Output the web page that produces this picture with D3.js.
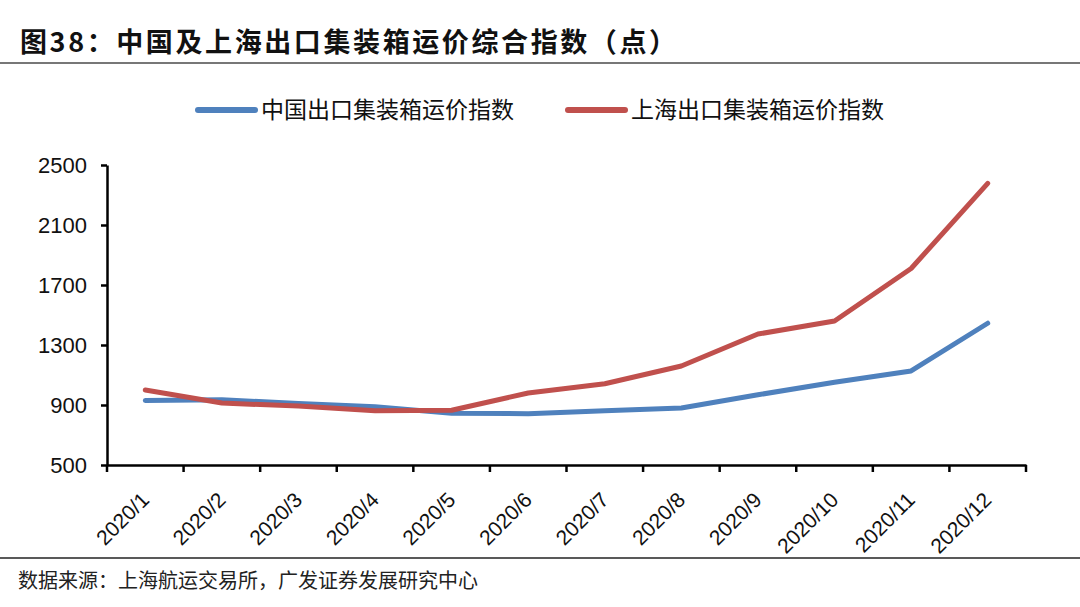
<!DOCTYPE html>
<html>
<head>
<meta charset="utf-8">
<script src="https://cdn.jsdelivr.net/npm/d3@7"></script>
<style>
  body { margin: 0; background: #fff; }
  svg { display: block; }
</style>
</head>
<body>
<div id="chart"></div>
<script>
// months and the two index series (points)
var months = ["2020/1", "2020/2", "2020/3", "2020/4", "2020/5", "2020/6",
              "2020/7", "2020/8", "2020/9", "2020/10", "2020/11", "2020/12"];
var chinaIdx = [930, 935, 910, 888, 845, 842, 862, 880, 968, 1052, 1127, 1445];
var shanghaiIdx = [1000, 913, 893, 862, 865, 980, 1042, 1160, 1373, 1460, 1810, 2378];
var yTicks = [500, 900, 1300, 1700, 2100, 2500];
var seriesNames = ["中国出口集装箱运价指数", "上海出口集装箱运价指数"];

var W = 1080, H = 607;
var svg = d3.select("#chart").append("svg")
  .attr("width", W).attr("height", H);

// title
svg.append("text")
  .attr("x", 20).attr("y", 52)
  .style("font-family", "'Noto Sans CJK SC', sans-serif")
  .style("font-weight", "bold")
  .style("font-size", "27px")
  .style("letter-spacing", "2.6px")
  .attr("fill", "#111")
  .text("图38：中国及上海出口集装箱运价综合指数（点）");

svg.append("line")
  .attr("x1", 0).attr("x2", W).attr("y1", 63).attr("y2", 63)
  .attr("stroke", "#777").attr("stroke-width", 2);

// plot area
var mLeft = 107, mRight = 1026, mTop = 165, mBottom = 465;

var x = d3.scaleBand().domain(months).range([mLeft, mRight]);
var y = d3.scaleLinear().domain([500, 2500]).range([mBottom, mTop]);

var yAxis = svg.append("g")
  .attr("transform", "translate(" + mLeft + ",0)")
  .call(d3.axisLeft(y).tickValues(yTicks).tickFormat(d3.format("d"))
    .tickSize(6).tickPadding(14).tickSizeOuter(0));
yAxis.selectAll("text")
  .style("font-family", "'Liberation Sans', Arial, sans-serif")
  .style("font-size", "22px").attr("fill", "#111");

var xAxis = svg.append("g")
  .attr("transform", "translate(0," + mBottom + ")")
  .call(d3.axisBottom(x).tickSize(0).tickFormat(""));

// tick marks on band edges
svg.append("g").selectAll("line")
  .data(months.concat(["end"]))
  .enter().append("line")
  .attr("x1", function(d, i) { return mLeft + i * x.bandwidth(); })
  .attr("x2", function(d, i) { return mLeft + i * x.bandwidth(); })
  .attr("y1", mBottom).attr("y2", mBottom + 7)
  .attr("stroke", "#000").attr("stroke-width", 2.5);

svg.selectAll(".domain").attr("stroke", "#000").attr("stroke-width", 2.5);
yAxis.selectAll(".tick line").attr("stroke", "#000").attr("stroke-width", 2.5);

// rotated month labels
svg.append("g").selectAll("text")
  .data(months)
  .enter().append("text")
  .attr("transform", function(d) {
    return "translate(" + (x(d) + x.bandwidth() / 2 - 6) + "," + (mBottom + 25) + ") rotate(-45)";
  })
  .attr("text-anchor", "end")
  .attr("dy", "0.75em")
  .style("font-family", "'Liberation Sans', Arial, sans-serif")
  .style("font-size", "21px").attr("fill", "#111")
  .text(function(d) { return d; });

// lines
var line = d3.line()
  .x(function(d, i) { return x(months[i]) + x.bandwidth() / 2; })
  .y(function(d) { return y(d); });

var colors = ["#4F81BD", "#C0504D"];
[chinaIdx, shanghaiIdx].forEach(function(s, k) {
  svg.append("path")
    .datum(s)
    .attr("d", line)
    .attr("fill", "none")
    .attr("stroke", colors[k])
    .attr("stroke-width", 5)
    .attr("stroke-linejoin", "round")
    .attr("stroke-linecap", "round");
});

// legend
var legendX = [198, 568];
seriesNames.forEach(function(name, k) {
  var g = svg.append("g").attr("transform", "translate(" + legendX[k] + ",110)");
  g.append("line").attr("x1", 0).attr("x2", 57).attr("y1", 0).attr("y2", 0)
    .attr("stroke", colors[k]).attr("stroke-width", 6).attr("stroke-linecap", "round");
  g.append("text").attr("x", 63).attr("y", 0).attr("dy", "0.35em")
    .style("font-family", "'Noto Sans CJK SC', sans-serif")
    .style("font-size", "23px").attr("fill", "#111")
    .text(name);
});

// footer
svg.append("line")
  .attr("x1", 0).attr("x2", W).attr("y1", 558).attr("y2", 558)
  .attr("stroke", "#222").attr("stroke-width", 1.5);
svg.append("text")
  .attr("x", 18).attr("y", 588)
  .style("font-family", "'Noto Sans CJK SC', sans-serif")
  .style("font-size", "20px").attr("fill", "#222")
  .text("数据来源：上海航运交易所，广发证券发展研究中心");
</script>
</body>
</html>
